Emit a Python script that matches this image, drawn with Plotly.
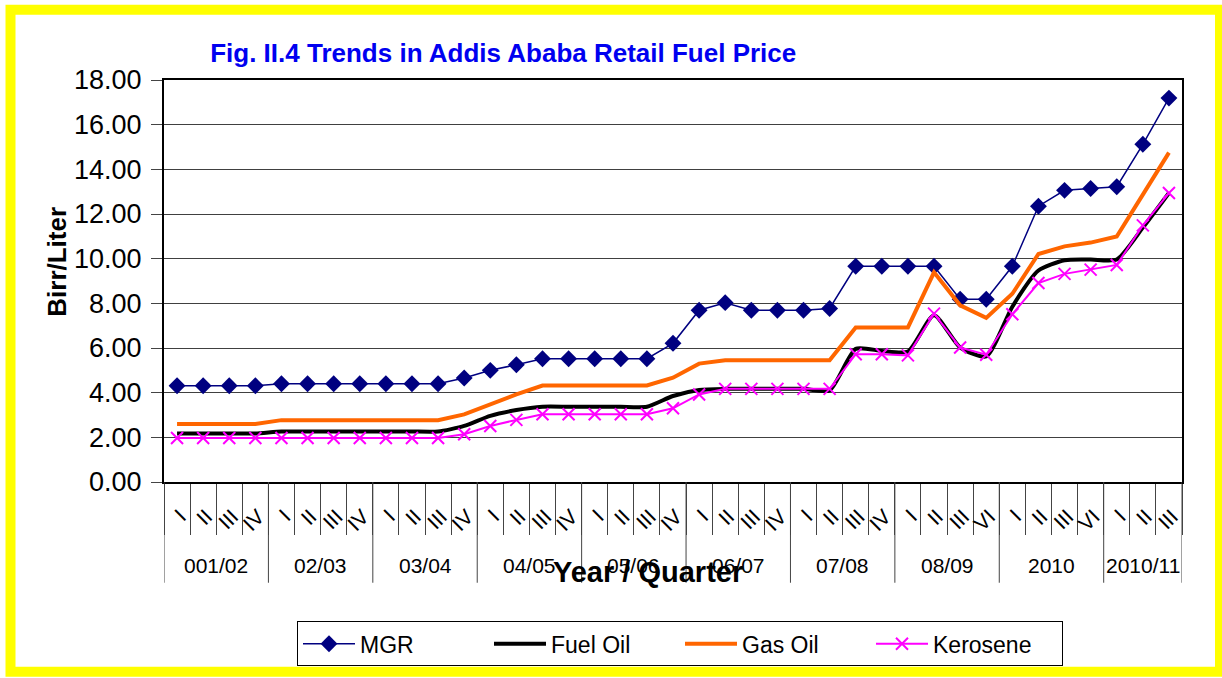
import plotly.graph_objects as go

# ---- data ----
quarters = ["I", "II", "III", "IV"] * 7 + ["I", "II", "III", "VI"] * 2 + ["I", "II", "III"]
years = ["001/02", "02/03", "03/04", "04/05", "05/06", "06/07", "07/08", "08/09", "2010", "2010/11"]
year_sizes = [4, 4, 4, 4, 4, 4, 4, 4, 4, 3]

mgr = [4.31, 4.31, 4.31, 4.31, 4.40, 4.40, 4.40, 4.40, 4.40, 4.40, 4.40, 4.66,
       5.00, 5.25, 5.52, 5.52, 5.52, 5.52, 5.52, 6.21, 7.69, 8.03, 7.69, 7.69,
       7.69, 7.77, 9.66, 9.66, 9.66, 9.66, 8.18, 8.18, 9.66, 12.35, 13.06, 13.14,
       13.22, 15.12, 17.19]
fuel_oil = [2.17, 2.17, 2.17, 2.17, 2.26, 2.26, 2.26, 2.26, 2.26, 2.26, 2.26, 2.51,
            2.96, 3.22, 3.37, 3.37, 3.37, 3.37, 3.37, 3.85, 4.12, 4.17, 4.17, 4.17,
            4.17, 4.10, 5.96, 5.87, 5.84, 7.47, 6.02, 5.62, 7.85, 9.47, 9.93, 9.96,
            9.96, 11.39, 12.94]
gas_oil = [2.60, 2.60, 2.60, 2.60, 2.77, 2.77, 2.77, 2.77, 2.77, 2.77, 2.77, 3.03,
           3.48, 3.92, 4.32, 4.32, 4.32, 4.32, 4.32, 4.67, 5.30, 5.45, 5.45, 5.45,
           5.45, 5.45, 6.92, 6.92, 6.92, 9.39, 7.91, 7.35, 8.43, 10.21, 10.55, 10.72,
           10.99, 12.87, 14.75]
kerosene = [1.97, 1.97, 1.97, 1.97, 1.97, 1.97, 1.97, 1.97, 1.97, 1.97, 1.97, 2.14,
            2.51, 2.78, 3.03, 3.03, 3.03, 3.03, 3.03, 3.30, 3.92, 4.17, 4.17, 4.17,
            4.17, 4.17, 5.72, 5.72, 5.67, 7.54, 6.02, 5.70, 7.51, 8.91, 9.32, 9.51,
            9.72, 11.49, 12.94]

n = len(quarters)
x = list(range(n))
FONT = "Arial, Liberation Sans, sans-serif"

# ---- layout geometry (pixels) ----
W, H = 1222, 678
L, R, T, B = 164, 40, 80, 191
PW, PH = W - L - R, H - T - B


def px_x(p):
    return (p - L) / PW


def px_y(p):
    return (H - B - p) / PH


fig = go.Figure()
fig.add_trace(go.Scatter(x=x, y=mgr, name="MGR", mode="lines+markers",
                         line=dict(color="#000080", width=1.5),
                         marker=dict(symbol="diamond", size=13, color="#000080")))
fig.add_trace(go.Scatter(x=x, y=fuel_oil, name="Fuel Oil", mode="lines",
                         line=dict(color="black", width=4, shape="spline", smoothing=0.6)))
fig.add_trace(go.Scatter(x=x, y=gas_oil, name="Gas Oil", mode="lines",
                         line=dict(color="#FF6600", width=4)))
fig.add_trace(go.Scatter(x=x, y=kerosene, name="Kerosene", mode="lines+markers",
                         line=dict(color="#FF00FF", width=2),
                         marker=dict(symbol="x-thin", size=12,
                                     line=dict(color="#FF00FF", width=2))))

shapes = []
# group dividers
b = -0.5
bounds = [b]
for s in year_sizes:
    b += s
    bounds.append(b)
for bb in bounds:
    shapes.append(dict(type="line", xref="x", yref="paper", x0=bb, x1=bb,
                       y0=0, y1=px_y(589), line=dict(color="#444", width=1)))
# yellow frame
shapes.append(dict(type="rect", xref="paper", yref="paper",
                   x0=px_x(10.5), x1=px_x(1220), y0=px_y(679), y1=px_y(9),
                   line=dict(color="#FFFF00", width=10), fillcolor="rgba(0,0,0,0)"))

annotations = []
for i, yr in enumerate(years):
    center = (bounds[i] + bounds[i + 1]) / 2
    annotations.append(dict(x=center, y=px_y(572), xref="x", yref="paper",
                            text=yr, showarrow=False, yanchor="middle",
                            font=dict(family=FONT, size=21, color="black")))
annotations.append(dict(x=px_x(648), y=px_y(578), xref="paper", yref="paper",
                        text="<b>Year / Quarter</b>", showarrow=False, yanchor="middle",
                        font=dict(family=FONT, size=29, color="black")))
annotations.append(dict(x=px_x(40), y=px_y(264), xref="paper", yref="paper",
                        text="<b>Birr/Liter</b>", showarrow=False, textangle=-90,
                        font=dict(family=FONT, size=26, color="black")))

fig.update_layout(
    width=W, height=H,
    margin=dict(l=L, r=R, t=T, b=B),
    paper_bgcolor="white", plot_bgcolor="white",
    title=dict(text="<b>Fig. II.4 Trends in Addis Ababa Retail Fuel Price</b>",
               xref="container", yref="container", x=0.172, xanchor="left",
               y=1 - 53 / H, yanchor="middle",
               font=dict(family=FONT, size=26, color="#0000F0")),
    xaxis=dict(range=[-0.5, n - 0.5], tickmode="array", tickvals=x, ticktext=quarters,
               tickangle=-45, ticks="", tickfont=dict(family=FONT, size=21, color="black"),
               showgrid=False, zeroline=False, showline=True, linecolor="black",
               linewidth=2, mirror=True, ticklabelshift=3, ticklabelstandoff=12,
               minor=dict(tickmode="array", tickvals=bounds[:1] + [i + 0.5 for i in range(n)],
                          ticks="outside", ticklen=51, tickcolor="#444", tickwidth=1,
                          showgrid=False)),
    yaxis=dict(range=[0, 18], dtick=2, tickformat=".2f",
               tickfont=dict(family=FONT, size=27, color="black"),
               ticks="outside", ticklen=11, tickcolor="#444", ticklabelstandoff=4,
               showgrid=True, gridcolor="#404040", gridwidth=1,
               zeroline=False, showline=True, linecolor="black", linewidth=2, mirror=True),
    legend=dict(orientation="h", x=px_x(680), xanchor="center", y=px_y(628), yanchor="top",
                bordercolor="black", borderwidth=1, bgcolor="white",
                font=dict(family=FONT, size=23, color="black"),
                itemwidth=52, entrywidth=124, entrywidthmode="pixels"),
    shapes=shapes,
    annotations=annotations,
    showlegend=True,
)

fig.write_html("out.html", config={"displayModeBar": False},
               post_script="document.body.style.margin='0';")
